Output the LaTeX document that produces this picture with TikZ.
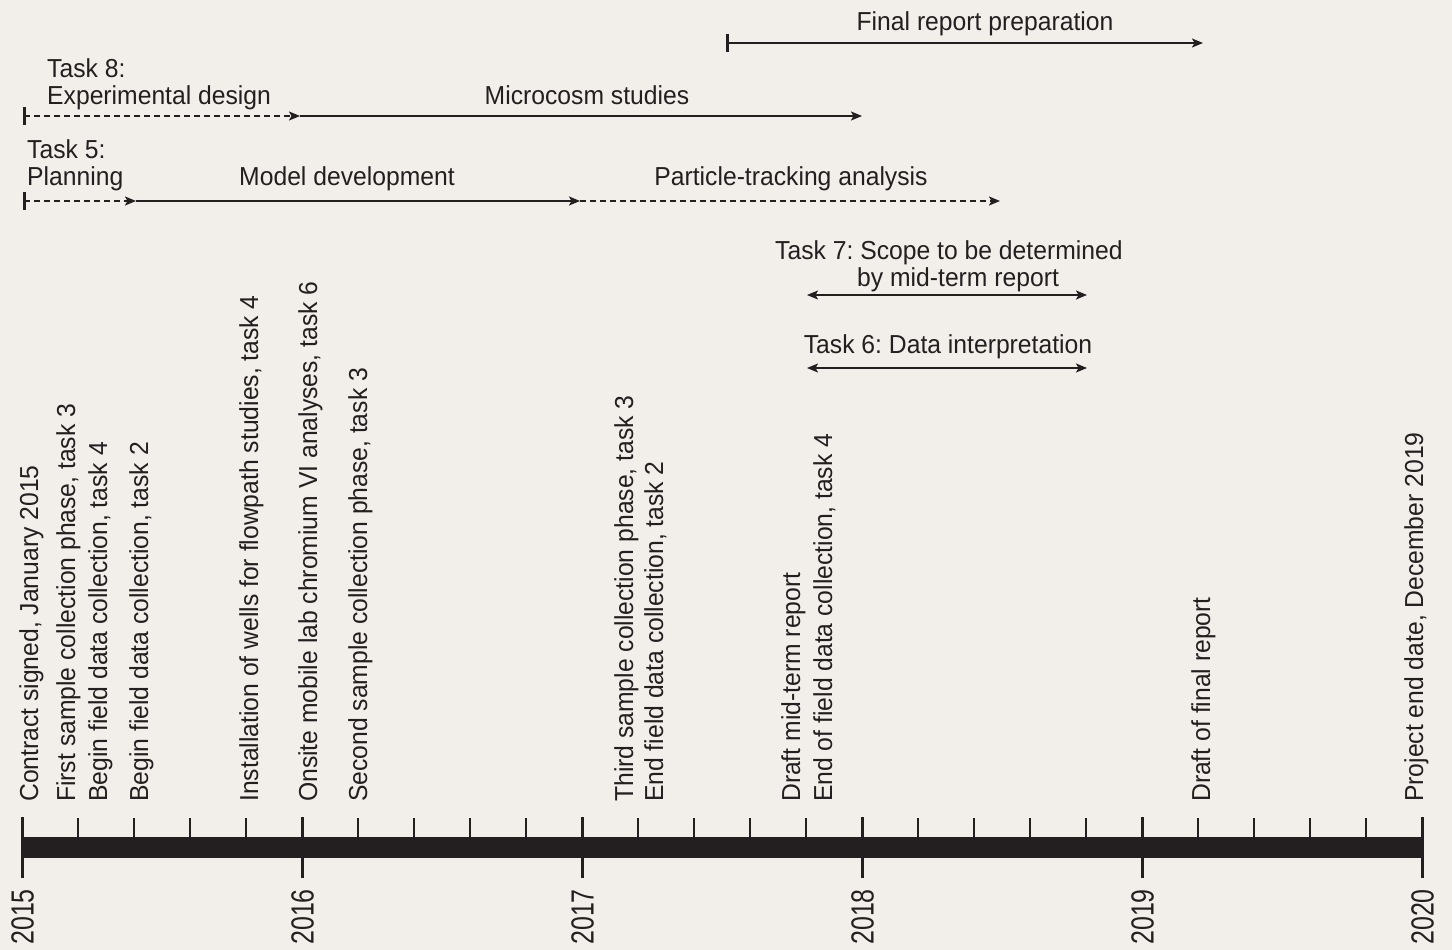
\documentclass[tikz,border=0pt]{standalone}
\usepackage{fontspec}
\setmainfont[FakeStretch=0.95]{Liberation Sans}
\newfontfamily\yearfont[FakeStretch=0.78]{Liberation Sans}
\usetikzlibrary{arrows.meta, positioning}
\frenchspacing
\definecolor{inkDark}{HTML}{231F20}
\definecolor{paperGray}{HTML}{F2EFEB}
\tikzset{
  arrowS/.style={-{Stealth[length=11pt, width=9pt, inset=2.5pt]}, draw=inkDark, line width=1.6pt},
  arrowDash/.style={arrowS, dash pattern=on 6pt off 4pt},
  arrowBoth/.style={{Stealth[length=11pt, width=9pt, inset=2.5pt]}-{Stealth[length=11pt, width=9pt, inset=2.5pt]},
                    draw=inkDark, line width=1.6pt},
  startBar/.style={draw=inkDark, line width=3pt},
  taskText/.style={inner sep=0pt, text=inkDark},
  eventText/.style={inner sep=0pt, text=inkDark, rotate=90, anchor=base west},
  yearText/.style={inner sep=0pt, text=inkDark, rotate=90, anchor=east,
                   font=\yearfont\fontsize{32}{32}\selectfont},
  majorTick/.style={draw=inkDark, line width=3pt},
  minorTick/.style={draw=inkDark, line width=1.8pt},
}

\begin{document}
\begin{tikzpicture}[x=1pt, y=-1pt, font=\fontsize{26}{27}\selectfont]
    \useasboundingbox (0,0) rectangle (1452,950);
    \fill[paperGray] (0,0) rectangle (1452,950);

    % task arrows
    \coordinate (frS) at (727,43);
    \coordinate (frE) at (1203,43);
    \coordinate (t8S) at (24,116);
    \coordinate (t8M) at (300,116);
    \coordinate (t8E) at (862,116);
    \coordinate (t5S) at (24,201);
    \coordinate (t5A) at (136,201);
    \coordinate (t5B) at (580,201);
    \coordinate (t5E) at (1000,201);
    \coordinate (t7S) at (807,295);
    \coordinate (t7E) at (1087,295);
    \coordinate (t6S) at (807,368);
    \coordinate (t6E) at (1087,368);

    \node[taskText, anchor=base] (frLab) at (985,31) {Final report preparation};
    \node[taskText, anchor=north west, align=left] (t8Lab) at (47,58) {Task 8:\\Experimental design};
    \node[taskText, anchor=base] (micLab) at (587,104) {Microcosm studies};
    \node[taskText, anchor=north west, align=left] (t5Lab) at (27,139) {Task 5:\\Planning};
    \node[taskText, anchor=base] (modLab) at (347,185) {Model development};
    \node[taskText, anchor=base] (ptaLab) at (791,185) {Particle-tracking analysis};
    \node[taskText, anchor=north west, align=left] (t7Lab) at (775,240)
      {Task 7: Scope to be determined\\\hspace*{82pt}by mid-term report};
    \node[taskText, anchor=base] (t6Lab) at (948,353) {Task 6: Data interpretation};

    \draw[startBar] ([yshift=9pt]frS) -- ([yshift=-9pt]frS);
    \draw[arrowS] (frS) -- (frE);
    \draw[startBar] ([yshift=9pt]t8S) -- ([yshift=-9pt]t8S);
    \draw[arrowDash] (t8S) -- (t8M);
    \draw[arrowS] (t8M) -- (t8E);
    \draw[startBar] ([yshift=9pt]t5S) -- ([yshift=-9pt]t5S);
    \draw[arrowDash] (t5S) -- (t5A);
    \draw[arrowS] (t5A) -- (t5B);
    \draw[arrowDash] (t5B) -- (t5E);
    \draw[arrowBoth] (t7S) -- (t7E);
    \draw[arrowBoth] (t6S) -- (t6E);

    % milestones
    \node[eventText] (ev1) at (38,802) {Contract signed, January 2015};
    \node[eventText] (ev2) at (75,802) {First sample collection phase, task 3};
    \node[eventText] (ev3) at (107,802) {Begin field data collection, task 4};
    \node[eventText] (ev4) at (148,802) {Begin field data collection, task 2};
    \node[eventText] (ev5) at (258,802) {Installation of wells for flowpath studies, task 4};
    \node[eventText] (ev6) at (317,802) {Onsite mobile lab chromium VI analyses, task 6};
    \node[eventText] (ev7) at (367,802) {Second sample collection phase, task 3};
    \node[eventText] (ev8) at (633,802) {Third sample collection phase, task 3};
    \node[eventText] (ev9) at (663,802) {End field data collection, task 2};
    \node[eventText] (ev10) at (800,802) {Draft mid-term report};
    \node[eventText] (ev11) at (832,802) {End of field data collection, task 4};
    \node[eventText] (ev12) at (1210,802) {Draft of final report};
    \node[eventText] (ev13) at (1423,802) {Project end date, December 2019};

    % time axis
    \fill[inkDark] (22,837) rectangle (1424,858);
    \foreach \k in {0,...,4}{
      \foreach \j in {1,...,4}{
        \draw[minorTick] (22+280*\k+56*\j,818) -- (22+280*\k+56*\j,838);
      }
    }
    \foreach \yr [count=\k from 0] in {2015,2016,2017,2018,2019,2020}{
      \draw[majorTick] (22.5+280*\k,817) -- (22.5+280*\k,878);
      \node[yearText] (y\yr) at (22.5+280*\k,889) {\yr};
    }
  \end{tikzpicture}
\end{document}
